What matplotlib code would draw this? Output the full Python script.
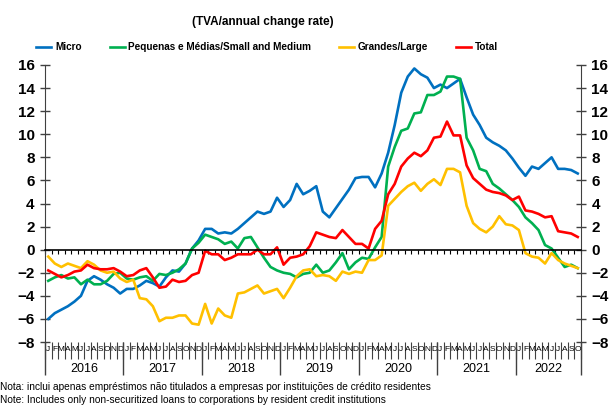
import matplotlib
matplotlib.use("Agg")
import matplotlib.pyplot as plt
import numpy as np

plt.rcParams['font.family'] = ['Liberation Sans', 'DejaVu Sans']

years = ['2016', '2017', '2018', '2019', '2020', '2021', '2022']
months = list('JFMAMJJASOND') * 6 + list('JFMAMJJASO')

micro = [-6.0, -5.5, -5.2, -4.9, -4.5, -4.0, -2.7, -2.3, -2.6, -3.0, -3.3, -3.8,
         -3.4, -3.4, -3.1, -2.7, -2.9, -3.2, -2.4, -1.8, -1.9, -1.2, 0.1, 0.8,
         1.8, 1.8, 1.4, 1.5, 1.4, 1.8, 2.3, 2.8, 3.3, 3.1, 3.3, 4.5,
         3.7, 4.3, 5.7, 4.8, 5.1, 5.5, 3.3, 2.8, 3.6, 4.4, 5.2, 6.2,
         6.3, 6.3, 5.4, 6.6, 8.4, 10.8, 13.6, 15.0, 15.7, 15.2, 14.9, 14.0,
         14.3, 14.0, 14.4, 14.8, 13.2, 11.7, 10.8, 9.7, 9.3, 9.0, 8.6, 7.9,
         7.1, 6.4, 7.2, 7.0, 7.5, 8.0, 7.0, 7.0, 6.9, 6.6]
sme = [-2.7, -2.4, -2.2, -2.5, -2.4, -3.0, -2.6, -3.0, -3.0, -2.7, -2.1, -2.0,
       -2.5, -2.6, -2.4, -2.3, -2.7, -2.1, -2.2, -2.0, -1.7, -1.2, 0.1, 0.6,
       1.3, 1.1, 0.9, 0.5, 0.7, 0.1, 1.0, 1.1, 0.2, -0.7, -1.5, -1.8,
       -2.0, -2.1, -2.4, -2.1, -2.0, -1.3, -2.0, -1.8, -1.1, -0.3, -1.7, -1.1,
       -0.7, -0.8, 0.2, 1.1, 7.2, 8.9, 10.3, 10.5, 11.8, 11.9, 13.4, 13.4,
       13.7, 15.0, 15.0, 14.8, 9.7, 8.6, 7.0, 6.8, 5.7, 5.3, 4.8, 4.3,
       3.7, 2.8, 2.3, 1.7, 0.4, 0.1, -0.7, -1.5, -1.3, -1.6]
large = [-0.6, -1.2, -1.5, -1.2, -1.4, -1.6, -1.0, -1.3, -1.8, -2.0, -1.9, -2.5,
         -2.8, -2.6, -4.2, -4.3, -4.9, -6.2, -5.9, -5.9, -5.7, -5.7, -6.4, -6.5,
         -4.7, -6.4, -5.1, -5.7, -5.9, -3.8, -3.7, -3.4, -3.1, -3.8, -3.6, -3.4,
         -4.2, -3.3, -2.3, -1.8, -1.7, -2.3, -2.2, -2.3, -2.7, -1.9, -2.1, -1.9,
         -2.0, -0.9, -0.9, -0.5, 3.8, 4.4, 5.0, 5.5, 5.8, 5.1, 5.7, 6.1,
         5.6, 7.0, 7.0, 6.7, 3.8, 2.3, 1.8, 1.5, 2.0, 2.9, 2.2, 2.1,
         1.7, -0.3, -0.6, -0.7, -1.2, -0.3, -0.9, -1.2, -1.4, -1.6]
total = [-1.8, -2.1, -2.4, -2.2, -1.9, -1.8, -1.3, -1.6, -1.7, -1.7, -1.6, -1.9,
         -2.3, -2.2, -1.8, -1.6, -2.4, -3.3, -3.2, -2.6, -2.8, -2.7, -2.2, -2.0,
         -0.1, -0.4, -0.4, -0.9, -0.7, -0.4, -0.4, -0.4, 0.0, -0.4, -0.4, 0.2,
         -1.3, -0.7, -0.6, -0.4, 0.3, 1.5, 1.3, 1.1, 1.0, 1.7, 1.1, 0.5,
         0.5, 0.1, 1.8, 2.5, 4.8, 5.7, 7.2, 7.9, 8.4, 8.1, 8.6, 9.7,
         9.8, 11.1, 9.9, 9.9, 7.3, 6.2, 5.7, 5.2, 5.0, 4.9, 4.7, 4.3,
         4.6, 3.4, 3.3, 3.1, 2.8, 2.9, 1.6, 1.5, 1.4, 1.1]

n = len(months)
x = np.arange(n) + 0.5

fig = plt.figure(figsize=(6.14, 4.05), dpi=100)
ax = fig.add_axes([45/614, 1 - 342/405, 536/614, 277/405])

lw = 1.9
ax.plot(x, micro, color='#0070C0', lw=lw, label='Micro')
ax.plot(x, sme, color='#00B050', lw=lw, label='Pequenas e Médias/Small and Medium')
ax.plot(x, large, color='#FFC000', lw=lw, label='Grandes/Large')
ax.plot(x, total, color='#FF0000', lw=lw, label='Total')

ax.set_xlim(0, n)
ax.set_ylim(-8, 16)
ax.set_yticks(np.arange(-8, 17, 2))
ax.tick_params(axis='y', which='major', direction='inout', length=7, width=1,
               color='#404040', labelsize=11, left=True, right=True,
               labelleft=True, labelright=True, pad=4)
for lab in ax.get_yticklabels():
    lab.set_fontweight('bold')

ax.spines['top'].set_visible(False)
ax.spines['left'].set_color('#404040')
ax.spines['right'].set_color('#404040')
ax.spines['bottom'].set_position(('data', 0))
ax.spines['bottom'].set_color('black')
ax.spines['bottom'].set_linewidth(1.2)
ax.set_xticks(np.arange(0, n + 1))
ax.tick_params(axis='x', direction='out', length=3, width=0.8, labelbottom=False)

# month row
sec = ax.secondary_xaxis(0)
for s in sec.spines.values():
    s.set_visible(False)
sec.set_xticks(np.arange(0, n + 1))
sec.set_xticklabels([])
sec.set_xticks(x, minor=True)
sec.set_xticklabels(months, minor=True, fontsize=6)
sec.tick_params(which='major', direction='out', length=12, width=0.8, color='#404040')
sec.tick_params(which='minor', length=0, pad=3)

# year row
year_edges = [0, 12, 24, 36, 48, 60, 72, n]
sec2 = ax.secondary_xaxis(0)
for s in sec2.spines.values():
    s.set_visible(False)
sec2.set_xticks(year_edges)
sec2.set_xticklabels([])
sec2.set_xticks([(a + b) / 2 for a, b in zip(year_edges[:-1], year_edges[1:])], minor=True)
sec2.set_xticklabels(years, minor=True, fontsize=9)
sec2.tick_params(which='major', direction='out', length=24, width=1, color='#404040')
sec2.tick_params(which='minor', length=0, pad=15)

fig.text(263/614, 1 - 22/405, '(TVA/annual change rate)', ha='center', va='center',
         fontsize=8.5, fontweight='bold')
ax.legend(loc='center', bbox_to_anchor=((267 - 45) / 536, 1 + (65 - 47) / 277), ncol=4,
          frameon=False, prop={'weight': 'bold', 'size': 7.2}, handlelength=1.5,
          handletextpad=0.35, columnspacing=2.8, borderaxespad=0, borderpad=0)

fig.text(0.0, 1 - 387/405, 'Nota: inclui apenas empréstimos não titulados a empresas por instituições de crédito residentes',
         fontsize=7.3, va='center', ha='left')
fig.text(0.0, 1 - 400/405, 'Note: Includes only non-securitized loans to corporations by resident credit institutions',
         fontsize=7.3, va='center', ha='left')

plt.savefig('out.png', dpi=100)
